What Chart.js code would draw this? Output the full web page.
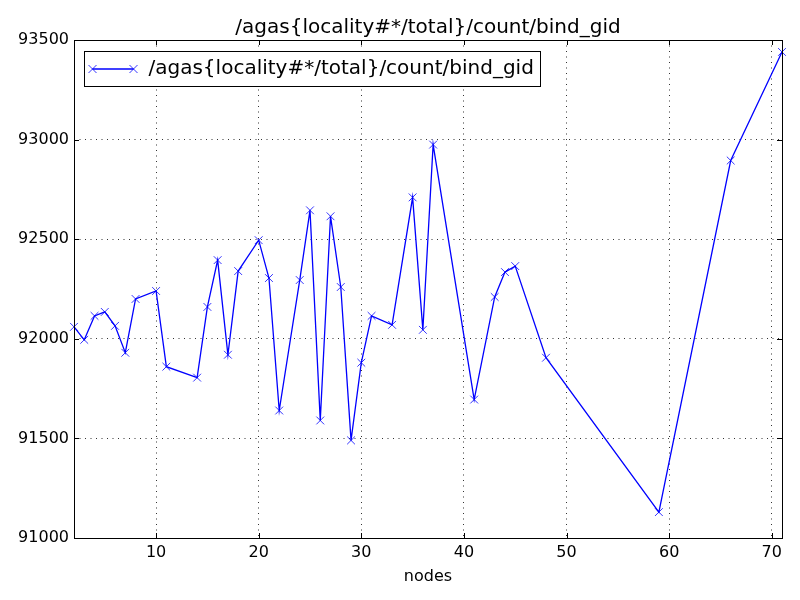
<!DOCTYPE html>
<html>
<head>
<meta charset="utf-8">
<script src="https://cdn.jsdelivr.net/npm/chart.js@4/dist/chart.umd.min.js"></script>
<style>
	html, body { margin: 0; padding: 0; background: #fff; }
</style>
</head>
<body>
<canvas id="bindGidChart" width="800" height="600"></canvas>
<script>
// Values.
const nodes = [ 2, 3, 4, 5, 6, 7, 8, 10, 11, 14, 15, 16, 17, 18, 20, 21, 22, 24, 25, 26, 27, 28, 29, 30, 31, 33, 35, 36, 37, 41, 43, 44, 45, 48, 59, 66, 71 ];
const bindGid = [ 92060, 91995, 92115, 92135, 92065, 91930, 92200, 92240, 91860, 91805, 92160, 92395, 91920, 92340, 92495, 92305, 91640, 92295, 92645, 91590, 92615, 92260, 91490, 91880, 92115, 92070, 92710, 92045, 92975, 91695, 92210, 92335, 92365, 91905, 91130, 92895, 93440 ];
const xTicks = [ 10, 20, 30, 40, 50, 60, 70 ];
const yTicks = [ 91000, 91500, 92000, 92500, 93000, 93500 ];
const seriesName = '/agas{locality#*/total}/count/bind_gid';
const xLabel = 'nodes';

( function () {
	'use strict';

	Chart.defaults.font.family = '"DejaVu Sans", sans-serif';
	Chart.defaults.font.size = 16;
	Chart.defaults.color = '#000';

	const lineColor = '#0000ff';
	const gridColor = 'rgba(0, 0, 0, 0.8)';

	function drawCross( ctx, x, y, r ) {
		ctx.beginPath();
		ctx.moveTo( x - r, y - r );
		ctx.lineTo( x + r, y + r );
		ctx.moveTo( x - r, y + r );
		ctx.lineTo( x + r, y - r );
		ctx.stroke();
	}

	// Frame, inward ticks and the boxed legend, matplotlib-style.
	const axesDecor = {
		id: 'axesDecor',
		afterLayout( chart ) {
			// centre the title over the plot area, not the canvas
			chart.titleBlock.left = chart.chartArea.left;
			chart.titleBlock.right = chart.chartArea.right;
		},
		afterDraw( chart ) {
			const ctx = chart.ctx;
			const area = chart.chartArea;
			const xs = chart.scales.x;
			const ys = chart.scales.y;
			ctx.save();
			ctx.strokeStyle = '#000';
			ctx.lineWidth = 1;
			ctx.beginPath();
			xTicks.forEach( ( v ) => {
				const px = Math.round( xs.getPixelForValue( v ) ) + 0.5;
				ctx.moveTo( px, area.bottom );
				ctx.lineTo( px, area.bottom - 5 );
				ctx.moveTo( px, area.top );
				ctx.lineTo( px, area.top + 5 );
			} );
			yTicks.forEach( ( v ) => {
				const py = Math.round( ys.getPixelForValue( v ) ) + 0.5;
				ctx.moveTo( area.left, py );
				ctx.lineTo( area.left + 5, py );
				ctx.moveTo( area.right, py );
				ctx.lineTo( area.right - 5, py );
			} );
			ctx.stroke();
			ctx.strokeRect(
				Math.round( area.left ) + 0.5,
				Math.round( area.top ) + 0.5,
				Math.round( area.right - area.left ),
				Math.round( area.bottom - area.top )
			);

			// Legend
			ctx.font = '20px "DejaVu Sans", sans-serif';
			const textW = ctx.measureText( seriesName ).width;
			const lx = Math.round( area.left ) + 10.5;
			const ly = Math.round( area.top ) + 11.5;
			const lw = Math.round( 64 + textW + 7 );
			const lh = 35;
			const midY = ly + lh / 2;
			ctx.fillStyle = '#fff';
			ctx.fillRect( lx, ly, lw, lh );
			ctx.strokeRect( lx, ly, lw, lh );
			ctx.strokeStyle = lineColor;
			ctx.lineWidth = 1.3;
			ctx.beginPath();
			ctx.moveTo( lx + 8, midY );
			ctx.lineTo( lx + 49, midY );
			ctx.stroke();
			ctx.lineWidth = 0.8;
			drawCross( ctx, lx + 8, midY, 4 );
			drawCross( ctx, lx + 49, midY, 4 );
			ctx.fillStyle = '#000';
			ctx.textBaseline = 'middle';
			ctx.textAlign = 'left';
			ctx.fillText( seriesName, lx + 64, midY );
			ctx.restore();
		},
	};

	const ctx = document.getElementById( 'bindGidChart' ).getContext( '2d' );

	new Chart( ctx, {
		type: 'scatter',
		data: {
			datasets: [
				{
					label: seriesName,
					data: nodes.map( ( n, i ) => ( { x: n, y: bindGid[ i ] } ) ),
					showLine: true,
					borderColor: lineColor,
					backgroundColor: lineColor,
					borderWidth: 1.3,
					pointStyle: 'crossRot',
					pointRadius: 5.5,
					pointBorderWidth: 0.8,
					pointBorderColor: lineColor,
					clip: 6,
				},
			],
		},
		options: {
			responsive: false,
			animation: false,
			layout: {
				padding: { left: 0, right: 18, top: 0, bottom: 0 },
			},
			plugins: {
				legend: { display: false },
				tooltip: { enabled: false },
				title: {
					display: true,
					text: seriesName,
					font: { size: 20, weight: 'normal', lineHeight: 1.2 },
					color: '#000',
					padding: { top: 16, bottom: 0 },
				},
			},
			scales: {
				x: {
					type: 'linear',
					min: 2,
					max: 71,
					afterBuildTicks: ( scale ) => {
						scale.ticks = xTicks.map( ( v ) => ( { value: v } ) );
					},
					afterFit: ( scale ) => {
						scale.height = 62;
					},
					ticks: {
						padding: 5,
						maxRotation: 0,
						callback: ( v ) => String( v ),
					},
					grid: {
						color: gridColor,
						lineWidth: 1,
						drawTicks: false,
					},
					border: { display: false, dash: [ 1, 4.5 ] },
					title: {
						display: true,
						text: xLabel,
						padding: { top: 0, bottom: 14 },
					},
				},
				y: {
					min: 91000,
					max: 93500,
					afterBuildTicks: ( scale ) => {
						scale.ticks = yTicks.map( ( v ) => ( { value: v } ) );
					},
					afterFit: ( scale ) => {
						scale.width = 74;
					},
					ticks: {
						padding: 5,
						callback: ( v ) => String( v ),
					},
					grid: {
						color: gridColor,
						lineWidth: 1,
						drawTicks: false,
					},
					border: { display: false, dash: [ 1, 4.5 ] },
				},
			},
		},
		plugins: [ axesDecor ],
	} );
} )();
</script>
</body>
</html>
